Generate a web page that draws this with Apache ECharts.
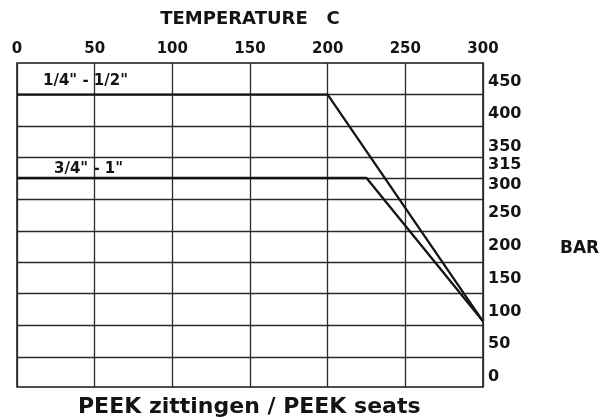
<!DOCTYPE html>
<html><head><meta charset="utf-8">
<script src="https://cdn.jsdelivr.net/npm/echarts@6/dist/echarts.min.js"></script>
<style>html,body{margin:0;padding:0;background:#fff}#c{width:605px;height:420px}</style>
</head><body><div id="c"></div>
<script>
// ---- data ----
const xTicks = [0, 50, 100, 150, 200, 250, 300];
const yLabels = [0, 50, 100, 150, 200, 250, 300, 315, 350, 400, 450];
const yGridValues = [31, 79, 127, 175, 222, 271, 303, 334, 382, 430];
const smallTemp = [0, 200, 300];
const smallBar = [430, 430, 85];
const largeTemp = [0, 225, 300];
const largeBar = [303, 303, 85];
const seriesNames = ['1/4" - 1/2"', '3/4" - 1"'];
const xTitle = 'TEMPERATURE   C';
const yTitle = 'BAR';
const caption = 'PEEK zittingen / PEEK seats';

const FONT = 'DejaVu Sans';
const INK = '#141414';

const chart = echarts.init(document.getElementById('c'), null, {renderer: 'canvas'});
chart.setOption({
  animation: false,
  backgroundColor: '#fff',
  grid: {left: 17, right: 122, top: 63, bottom: 33, show: true, borderColor: INK, borderWidth: 1.5, backgroundColor: 'transparent'},
  xAxis: {
    type: 'value', position: 'top', min: xTicks[0], max: xTicks[xTicks.length - 1], interval: 50,
    name: xTitle, nameLocation: 'middle', nameGap: 35,
    nameTextStyle: {fontFamily: FONT, fontWeight: 'bold', fontSize: 18, color: INK},
    axisLine: {show: false}, axisTick: {show: false},
    axisLabel: {margin: 6, fontFamily: FONT, fontWeight: 'bold', fontSize: 15, color: INK},
    splitLine: {show: true, lineStyle: {color: '#2a2a2a', width: 1.3}}
  },
  yAxis: {
    type: 'value', position: 'right', min: -15, max: 478,
    axisLine: {show: false},
    axisTick: {show: false, customValues: yGridValues},
    splitLine: {show: true, lineStyle: {color: '#2a2a2a', width: 1.3}},
    axisLabel: {
      customValues: yLabels, margin: 5, fontFamily: FONT, fontWeight: 'bold', fontSize: 16, color: INK,
      formatter: function (v) {
        if (v === 315) return '{up|' + v + '}';
        if (v === 300) return '{dn|' + v + '}';
        return '{n|' + v + '}';
      },
      rich: {
        n: {fontFamily: FONT, fontWeight: 'bold', fontSize: 16, color: INK},
        up: {fontFamily: FONT, fontWeight: 'bold', fontSize: 16, color: INK, padding: [0, 0, 10, 0]},
        dn: {fontFamily: FONT, fontWeight: 'bold', fontSize: 16, color: INK, padding: [10, 0, 0, 0]}
      }
    }
  },
  series: [
    {name: seriesNames[0], type: 'line', symbol: 'none', data: smallTemp.map((t, i) => [t, smallBar[i]]),
     lineStyle: {color: INK, width: 2.3}, z: 5},
    {name: seriesNames[1], type: 'line', symbol: 'none', data: largeTemp.map((t, i) => [t, largeBar[i]]),
     lineStyle: {color: INK, width: 2.3}, z: 5}
  ],
  graphic: [
    {type: 'text', left: 43, top: 74, style: {text: seriesNames[0], font: 'bold 15px "DejaVu Sans"', fill: INK}},
    {type: 'text', left: 54, top: 162, style: {text: seriesNames[1], font: 'bold 15px "DejaVu Sans"', fill: INK}},
    {type: 'text', left: 560, top: 240, style: {text: yTitle, font: 'bold 17px "DejaVu Sans"', fill: INK}},
    {type: 'text', left: 78, top: 396, style: {text: caption, font: 'bold 22px "DejaVu Sans"', fill: INK}}
  ]
});
</script></body></html>
